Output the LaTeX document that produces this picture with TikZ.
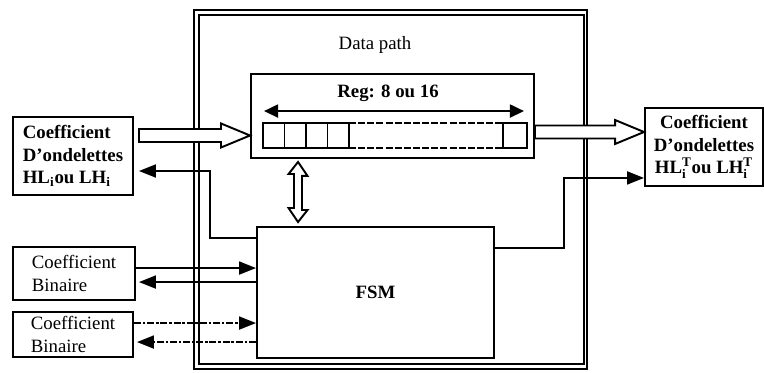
\documentclass[tikz,border=0pt]{standalone}
\usepackage{fontspec}
\setmainfont{Liberation Serif}
\usetikzlibrary{arrows.meta,calc,positioning}

\newcommand{\hollowarrow}[2]{%
  \draw[hollow] ($(#1)+(0,-6.5)$) -- ($(#2)+(-29,-6.5)$) -- ($(#2)+(-29,-12)$) -- (#2)
    -- ($(#2)+(-29,12)$) -- ($(#2)+(-29,6.5)$) -- ($(#1)+(0,6.5)$) -- cycle;}

\begin{document}
\begin{tikzpicture}[x=0.2mm, y=-0.2mm, line width=1pt,
  every node/.style={font=\fontsize{10.7}{12.8}\selectfont},
  boldtxt/.style={font=\fontsize{10.7}{12.8}\selectfont\bfseries},
  box/.style={draw, line width=1.1pt, inner sep=0pt, align=left},
  cell/.style={draw, line width=1pt, outer sep=0pt, inner sep=0pt, minimum width=4.3mm, minimum height=5mm},
  hollow/.style={line width=1.1pt, fill=white, line join=miter},
  arr/.style={-{Triangle[length=3.4mm,width=2.6mm]}, line width=1.1pt},
  dasharr/.style={arr, dash pattern=on 4pt off 1pt on 1.5pt off 1pt}]
\useasboundingbox (0,0) rectangle (764,373);

% data path frame
\draw[line width=0.9pt] (194,10) rectangle (587,369);
\draw[line width=0.9pt] (199,15) rectangle (584,364);
\node (dp) at (375,45) {Data path};

% register
\node[box, minimum width=56.6mm, minimum height=16.8mm] (reg) at (392.5,116) {};
\node[boldtxt] (regl) at (388,93) {Reg: 8 ou 16};
\draw[{Triangle[length=2.8mm,width=2.6mm]}-{Triangle[length=2.8mm,width=2.6mm]}, line width=1.1pt]
  ($(reg.north west)+(14,38)$) -- ($(reg.north east)+(-11,38)$);
\node[cell, anchor=west] (c1) at (263,135.5) {};
\node[cell, right=0pt of c1] (c2) {};
\node[cell, right=0pt of c2] (c3) {};
\node[cell, right=0pt of c3] (c4) {};
\node[cell, anchor=east, minimum width=4.8mm] (c5) at (527,135.5) {};
\draw[dash pattern=on 4pt off 1.2pt] (c4.north east) -- (c5.north west);
\draw[dash pattern=on 4pt off 1.2pt] (c4.south east) -- (c5.south west);

% fsm
\node[box, boldtxt, minimum width=47.4mm, minimum height=26.2mm] (fsm) at (375.5,292.5) {FSM};

% outside boxes
\node[box, boldtxt, minimum width=24mm, minimum height=15.6mm] (lwav) at (73,156)
  {Coefficient\\D'ondelettes\\HL\textsubscript{i}ou LH\textsubscript{i}};
\node[box, boldtxt, align=center, minimum width=23.6mm, minimum height=15.6mm] (rwav) at (704,147)
  {Coefficient\\D'ondelettes\\HL$^{\mathbf{T}}_{\mathbf{i}}$ou LH$^{\mathbf{T}}_{\mathbf{i}}$};
\node[box, minimum width=24.4mm, minimum height=10.6mm] (bin1) at (74,273.5) {Coefficient\\Binaire};
\node[box, minimum width=24mm, minimum height=9mm] (bin2) at (73,334.5) {Coefficient\\Binaire};

% hollow buses
\coordinate (inS) at ($(lwav.east |- c1)+(5,0)$);
\coordinate (inE) at (reg.west |- c1);
\hollowarrow{inS}{inE}
\coordinate (outS) at ($(reg.east)+(0,16)$);
\coordinate (outE) at (outS -| rwav.west);
\hollowarrow{outS}{outE}
\coordinate (vt) at ($(reg.south west)+(48,3)$);
\coordinate (vb) at ($(fsm.north west)+(42,-4)$);
\draw[hollow] (vt) -- ++(9.5,14) -- ++(-5.5,0) -- ++(0,34) -- ++(5.5,0) -- (vb)
  -- ++(-9.5,-14) -- ++(5.5,0) -- ++(0,-34) -- ++(-5.5,0) -- cycle;

% control lines
\draw[arr] ($(fsm.north west)+(0,12)$) -- ++(-46,0) |- ($(lwav.east)+(5,15)$);
\draw[arr] ($(fsm.north east)+(0,22)$) -- ++(69,0) |- ($(rwav.south west)+(0,-9)$);
\coordinate (b1o) at ($(bin1.north east)+(0,22)$);
\coordinate (b1i) at ($(bin1.north east)+(3,36)$);
\draw[arr] (b1o) -- (b1o -| fsm.west);
\draw[arr] (b1i -| fsm.west) -- (b1i);
\coordinate (b2o) at ($(bin2.north east)+(0,12)$);
\coordinate (b2i) at ($(bin2.north east)+(3,31)$);
\draw[dasharr] (b2o) -- (b2o -| fsm.west);
\draw[dasharr] (b2i -| fsm.west) -- (b2i);
\end{tikzpicture}
\end{document}
